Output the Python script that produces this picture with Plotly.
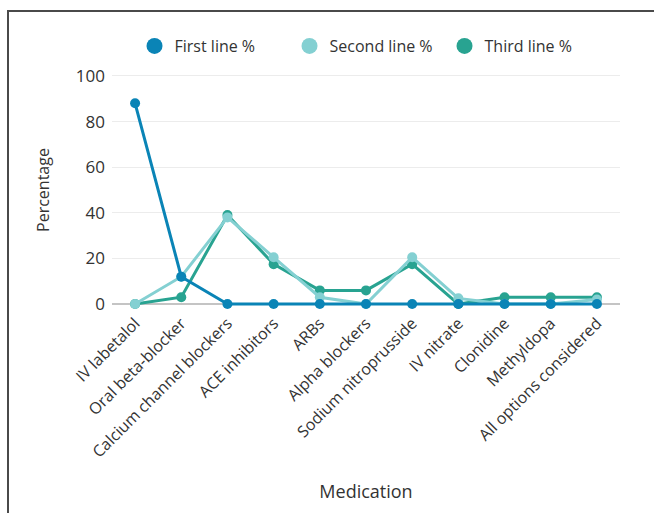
import plotly.graph_objects as go

medications = [
    "IV labetalol", "Oral beta-blocker", "Calcium channel blockers",
    "ACE inhibitors", "ARBs", "Alpha blockers", "Sodium nitroprusside",
    "IV nitrate", "Clonidine", "Methyldopa", "All options considered",
]
first_line = [88, 12, 0, 0, 0, 0, 0, 0, 0, 0, 0]
second_line = [0, 12, 38, 20.5, 3, 0, 20.5, 2.5, 0, 0, 2]
third_line = [0, 3, 39, 17.5, 6, 6, 17.5, 0, 3, 3, 3]

series_names = ["First line %", "Second line %", "Third line %"]
series_values = [first_line, second_line, third_line]
series_colors = ["#0a84b6", "#84d0d2", "#28a391"]

FONT = "Open Sans"
TEXT = "#333333"

fig = go.Figure()

# data lines (drawn back to front so the first series sits on top)
for name, vals, col in reversed(list(zip(series_names, series_values, series_colors))):
    fig.add_trace(go.Scatter(
        x=medications, y=vals, name=name, mode="lines+markers",
        line=dict(color=col, width=3),
        marker=dict(color=col, size=10),
        showlegend=False,
    ))

# circle-only legend entries
for name, col in zip(series_names, series_colors):
    fig.add_trace(go.Scatter(
        x=[None], y=[None], name=name, mode="markers",
        marker=dict(color=col, size=18),
    ))

fig.update_layout(
    width=654, height=513,
    margin=dict(l=112, r=34, t=70, b=203),
    paper_bgcolor="white", plot_bgcolor="white",
    font=dict(family=FONT, color=TEXT, size=15),
    legend=dict(
        orientation="h", x=0.502, xanchor="center", y=1.1, yanchor="middle",
        font=dict(size=16, color=TEXT), itemwidth=30, traceorder="normal",
        entrywidth=110,
    ),
    xaxis=dict(
        type="category", range=[-0.5, 10.5], tickangle=-45, automargin=False,
        tickfont=dict(size=16, color=TEXT), showgrid=False, showline=False,
        ticks="", title=dict(text="Medication", font=dict(size=18, color=TEXT), standoff=24),
    ),
    yaxis=dict(
        range=[-2.6, 102.6], tickvals=[0, 20, 40, 60, 80, 100], automargin=False,
        tickfont=dict(size=17, color=TEXT), gridcolor="#ececec", gridwidth=1,
        zeroline=True, zerolinecolor="#c4c4c4", zerolinewidth=1.5,
        showline=False, ticks="", ticklabelstandoff=6,
        title=dict(text="Percentage", font=dict(size=16, color=TEXT), standoff=22),
    ),
    shapes=[dict(
        type="rect", xref="paper", yref="paper",
        x0=(8 - 112) / 508, x1=(680 - 112) / 508,
        y0=(310 - 540) / 240, y1=(310 - 11) / 240,
        line=dict(color="#4a4a4a", width=2), fillcolor="rgba(0,0,0,0)", layer="below",
    )],
)

fig.write_html("out.html")
